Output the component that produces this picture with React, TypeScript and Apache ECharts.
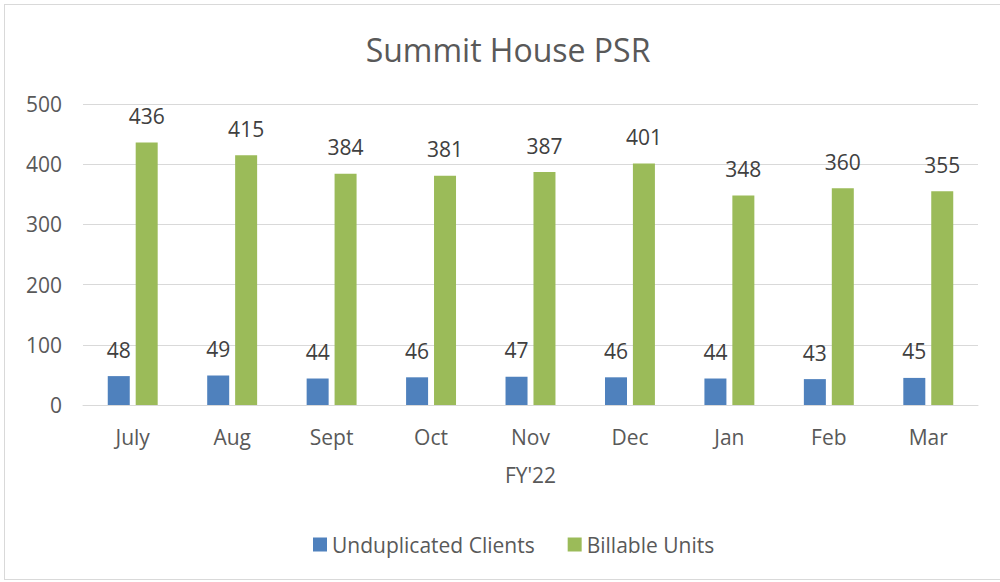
import React, { useEffect, useRef } from "react";
import * as echarts from "echarts";

const categories = ["July", "Aug", "Sept", "Oct", "Nov", "Dec", "Jan", "Feb", "Mar"];
const unduplicatedClients = [48, 49, 44, 46, 47, 46, 44, 43, 45];
const billableUnits = [436, 415, 384, 381, 387, 401, 348, 360, 355];
const yTicks = { min: 0, max: 500, interval: 100 };

const FONT = "'Open Sans', 'Noto Sans', sans-serif";
const TEXT = "#595959";

export default function App() {
  const ref = useRef<HTMLDivElement>(null);
  useEffect(() => {
    if (!ref.current) return;
    const chart = echarts.init(ref.current, undefined, { renderer: "svg" });
    chart.setOption({
      animation: false,
      backgroundColor: "#ffffff",
      title: {
        text: "Summit House PSR",
        left: 498,
        top: 23,
        textAlign: "center",
        textStyle: { fontFamily: FONT, fontSize: 32, fontWeight: "normal", color: TEXT },
      },
      grid: { left: 78, right: 17, top: 99, bottom: 172, containLabel: false },
      legend: {
        bottom: 17,
        left: 303,
        itemWidth: 14,
        itemHeight: 14,
        itemGap: 33,
        icon: "rect",
        textStyle: { fontFamily: FONT, fontSize: 21, color: TEXT },
        data: ["Unduplicated Clients", "Billable Units"],
      },
      xAxis: {
        type: "category",
        data: categories,
        name: "FY'22",
        nameLocation: "middle",
        nameGap: 59,
        nameTextStyle: { fontFamily: FONT, fontSize: 21, color: TEXT },
        axisLine: { show: true, lineStyle: { color: "#d9d9d9" } },
        axisTick: { show: false },
        axisLabel: { fontFamily: FONT, fontSize: 21, color: TEXT, margin: 21 },
      },
      yAxis: {
        type: "value",
        min: yTicks.min,
        max: yTicks.max,
        interval: yTicks.interval,
        axisLine: { show: false },
        axisTick: { show: false },
        splitLine: { lineStyle: { color: "#d9d9d9", width: 1 } },
        axisLabel: { fontFamily: FONT, fontSize: 21, color: TEXT, margin: 21 },
      },
      series: [
        {
          name: "Unduplicated Clients",
          type: "bar",
          data: unduplicatedClients,
          barWidth: 22,
          barGap: "27%",
          itemStyle: { color: "#4f81bd" },
          label: { show: true, position: "top", distance: 16, fontFamily: FONT, fontSize: 21, color: "#404040" },
        },
        {
          name: "Billable Units",
          type: "bar",
          data: billableUnits,
          barWidth: 22,
          barGap: "27%",
          itemStyle: { color: "#9bbb59" },
          label: { show: true, position: "top", distance: 16, fontFamily: FONT, fontSize: 21, color: "#404040" },
        },
      ],
    });
    return () => chart.dispose();
  }, []);
  return (
    <div style={{ position: "fixed", left: 0, top: 0, width: 1000, height: 582, background: "#fff" }}>
      <div
        style={{
          position: "absolute",
          left: 4,
          top: 4,
          width: 1000,
          height: 576,
          border: "1px solid #d9d9d9",
          boxSizing: "border-box",
        }}
      />
      <div ref={ref} style={{ position: "absolute", left: 5, top: 5, width: 990, height: 572 }} />
    </div>
  );
}
